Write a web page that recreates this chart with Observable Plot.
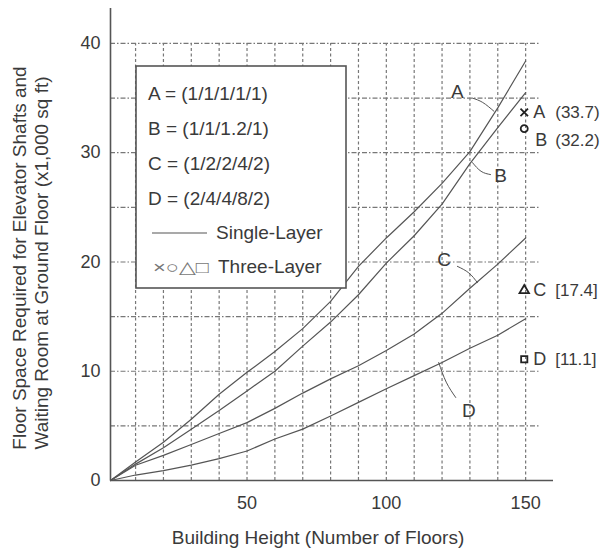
<!DOCTYPE html>
<html><head><meta charset="utf-8">
<script src="https://cdn.jsdelivr.net/npm/d3@7"></script>
<script src="https://cdn.jsdelivr.net/npm/@observablehq/plot@0.6"></script>
<style>body{margin:0;background:#fff}</style>
</head><body><div id="chart"></div>
<script>
const floors  = [1, 10, 20, 30, 40, 50, 60, 70, 80, 90, 100, 110, 120, 130, 140, 150];
const seriesA = [0, 1.7, 3.5, 5.6, 7.9, 9.9, 11.8, 13.9, 16.4, 19.6, 22.2, 24.6, 27.2, 30.1, 34.1, 38.4];
const seriesB = [0, 1.5, 3.0, 4.7, 6.4, 8.2, 10.0, 12.3, 14.5, 17.0, 19.9, 22.4, 25.3, 29.0, 32.3, 35.5];
const seriesC = [0, 1.4, 2.3, 3.3, 4.3, 5.3, 6.6, 8.0, 9.3, 10.5, 11.9, 13.4, 15.3, 17.6, 19.8, 22.2];
const seriesD = [0, 0.5, 0.9, 1.4, 2.0, 2.7, 3.8, 4.7, 5.9, 7.15, 8.4, 9.6, 10.8, 12.1, 13.3, 14.8];
const seriesNames = ["A", "B", "C", "D"];

const threeLayerFloor  = 149.5;
const threeLayerValues = [33.7, 32.2, 17.4, 11.1];
const threeLayerLabels = ["(33.7)", "(32.2)", "[17.4]", "[11.1]"];
const threeLayerSymbols = ["times", "circle", "triangle", "square"];

const curveLabelFloors = [125.5, 141, 120.7, 129.6];
const curveLabelValues = [35.6, 27.9, 20.2, 6.4];
const leaderFloors = [[130.9, 134.6, 138.6], [130.9, 134, 137.4], [125.5, 129.6, 132.7], [118.8, 121.5, 124.9]];
const leaderValues = [[35.0, 34.6, 33.8], [29.1, 28.3, 28.0], [19.6, 19.0, 18.1], [10.8, 9.0, 7.6]];

const legendEntries = ["A = (1/1/1/1/1)", "B = (1/1/1.2/1)", "C = (1/2/2/4/2)", "D = (2/4/4/8/2)"];
const legendSingle = "Single-Layer";
const legendThreeSymbols = "×○△□";
const legendThree = "Three-Layer";

const xTicks = [50, 100, 150];
const yTicks = [0, 10, 20, 30, 40];
const xGrid = [10, 20, 30, 40, 50, 60, 70, 80, 90, 100, 110, 120, 130, 140, 150];
const yGrid = [5, 10, 15, 20, 25, 30, 35, 40];
const xTitle = "Building Height (Number of Floors)";
const yTitle1 = "Floor Space Required for Elevator Shafts and";
const yTitle2 = "Waiting Room at Ground Floor (x1,000 sq ft)";

const allSeries = [seriesA, seriesB, seriesC, seriesD];
const lineData = seriesNames.flatMap((name, i) => floors.map((f, j) => ({name, floor: f, value: allSeries[i][j]})));
const markers = seriesNames.map((name, i) => ({name, floor: threeLayerFloor, value: threeLayerValues[i], label: threeLayerLabels[i]}));
const curveLabels = seriesNames.map((name, i) => ({name, floor: curveLabelFloors[i], value: curveLabelValues[i]}));
const leaders = seriesNames.flatMap((name, i) => leaderFloors[i].map((f, j) => ({name, floor: f, value: leaderValues[i][j]})));

const font = "'Liberation Sans', Arial, Helvetica, sans-serif";
const ink = "#3a3a3a";
const lineInk = "#555";

const plot = Plot.plot({
  width: 608, height: 550,
  marginLeft: 110, marginRight: 55, marginTop: 8, marginBottom: 70,
  x: {domain: [1, 160], label: null},
  y: {domain: [0, 43.2], label: null},
  symbol: {domain: seriesNames, range: threeLayerSymbols},
  style: {fontFamily: font, fontSize: "18px", color: ink, background: "white", overflow: "visible"},
  marks: [
    Plot.ruleX(xGrid, {y1: 0, y2: 40, stroke: "#777", strokeWidth: 1.2, strokeDasharray: "3,2.5"}),
    Plot.ruleY(yGrid, {x1: 1, x2: 155.5, stroke: "#777", strokeWidth: 1.2, strokeDasharray: "5,2,1.5,2"}),
    Plot.line(lineData, {x: "floor", y: "value", z: "name", stroke: lineInk, strokeWidth: 1.2}),
    Plot.line(leaders, {x: "floor", y: "value", z: "name", stroke: lineInk, strokeWidth: 1, curve: "natural"}),
    Plot.text(curveLabels, {x: "floor", y: "value", text: "name", fontSize: 19, fill: ink}),
    Plot.dot(markers, {x: "floor", y: "value", symbol: "name", r: 3.5, stroke: "#222", strokeWidth: 1.8, fill: "none"}),
    Plot.text(markers.filter(d => d.name !== "B"), {x: "floor", y: "value", text: "name", textAnchor: "start", dx: 9, fontSize: 18, fill: ink}),
    Plot.text(markers.filter(d => d.name !== "B"), {x: "floor", y: "value", text: "label", textAnchor: "start", dx: 31, fontSize: 17, fill: ink}),
    Plot.text(markers.filter(d => d.name === "B"), {x: "floor", y: "value", text: "name", textAnchor: "start", dx: 11, dy: 12, fontSize: 18, fill: ink}),
    Plot.text(markers.filter(d => d.name === "B"), {x: "floor", y: "value", text: "label", textAnchor: "start", dx: 31, dy: 12, fontSize: 17, fill: ink}),
    Plot.ruleY([0], {x1: 1, x2: 160, stroke: "#555", strokeWidth: 1.6}),
    Plot.ruleX([1], {y1: 0, y2: 43.2, stroke: "#555", strokeWidth: 1.6}),
    Plot.axisX({ticks: xTicks, tickSize: 0, tickPadding: 16, fontSize: 18, fill: ink}),
    Plot.axisY({ticks: yTicks, tickSize: 0, tickPadding: 10, fontSize: 18, fill: ink})
  ]
});

const svg = d3.select(plot);
// legend box (drawn on top of the curves, opaque)
const g = svg.append("g").attr("font-family", font).attr("fill", ink).attr("text-anchor", "start");
g.append("rect").attr("x", 136).attr("y", 66).attr("width", 210).attr("height", 222)
  .attr("fill", "white").attr("stroke", "#555").attr("stroke-width", 1.6);
legendEntries.forEach((t, i) => {
  g.append("text").attr("x", 148).attr("y", 100 + i * 35).attr("font-size", 19).text(t);
});
g.append("line").attr("x1", 152).attr("x2", 207).attr("y1", 233).attr("y2", 233)
  .attr("stroke", lineInk).attr("stroke-width", 1.2);
g.append("text").attr("x", 216).attr("y", 239).attr("font-size", 19).text(legendSingle);
g.append("text").attr("x", 153).attr("y", 273).attr("font-size", 17).attr("fill", "#777")
  .attr("textLength", 56).attr("lengthAdjust", "spacingAndGlyphs").text(legendThreeSymbols);
g.append("text").attr("x", 218).attr("y", 273).attr("font-size", 19).text(legendThree);

// axis titles
svg.append("text").attr("x", 318).attr("y", 544).attr("text-anchor", "middle")
  .attr("font-family", font).attr("font-size", 19).attr("fill", ink).text(xTitle);
svg.append("text").attr("transform", "translate(26,258) rotate(-90)").attr("text-anchor", "middle")
  .attr("font-family", font).attr("font-size", 19).attr("fill", ink).text(yTitle1);
svg.append("text").attr("transform", "translate(48,263) rotate(-90)").attr("text-anchor", "middle")
  .attr("font-family", font).attr("font-size", 19).attr("fill", ink).text(yTitle2);

document.getElementById("chart").appendChild(plot);
</script>
</body></html>
